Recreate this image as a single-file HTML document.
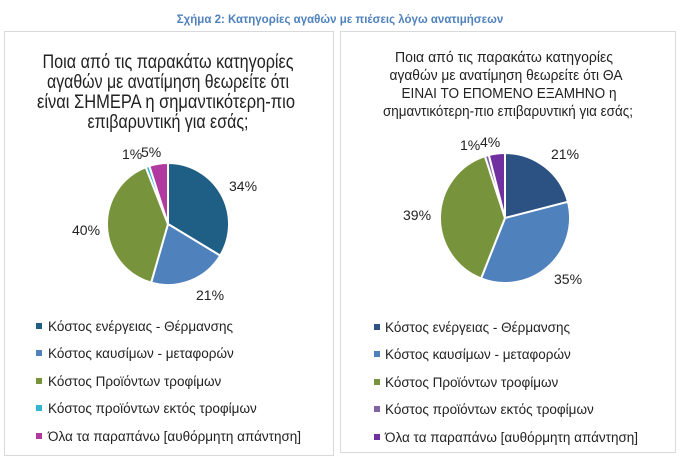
<!DOCTYPE html>
<html><head><meta charset="utf-8"><style>
body{margin:0;background:#fff;}
svg{display:block;font-family:"Liberation Sans",Arial,sans-serif;}
</style></head><body>
<svg id="s" width="680" height="464" xmlns="http://www.w3.org/2000/svg">
<rect width="680" height="464" fill="#fff"/>
<text x="340" y="23" text-anchor="middle" font-size="11.5" font-weight="bold" fill="#4f81bd">Σχήμα 2: Κατηγορίες αγαθών με πιέσεις λόγω ανατιμήσεων</text>
<rect x="4.5" y="31.5" width="329" height="424" fill="#fff" stroke="#d9d9d9"/>
<rect x="340.5" y="31.5" width="335" height="421" fill="#fff" stroke="#d9d9d9"/>
<g font-size="19" fill="#222" text-anchor="middle" lengthAdjust="spacingAndGlyphs">
<text x="168" y="68" textLength="251" lengthAdjust="spacingAndGlyphs">Ποια από τις παρακάτω κατηγορίες</text>
<text x="168" y="88" textLength="242" lengthAdjust="spacingAndGlyphs">αγαθών με ανατίμηση θεωρείτε ότι</text>
<text x="166" y="108" textLength="258" lengthAdjust="spacingAndGlyphs">είναι ΣΗΜΕΡΑ η σημαντικότερη-πιο</text>
<text x="168" y="128" textLength="161" lengthAdjust="spacingAndGlyphs">επιβαρυντική για εσάς;</text>
</g>
<g font-size="15" fill="#222" text-anchor="middle">
<text x="504" y="62" textLength="218" lengthAdjust="spacingAndGlyphs">Ποια από τις παρακάτω κατηγορίες</text>
<text x="506" y="80" textLength="233" lengthAdjust="spacingAndGlyphs">αγαθών με ανατίμηση θεωρείτε ότι ΘΑ</text>
<text x="509" y="98" textLength="215" lengthAdjust="spacingAndGlyphs">ΕΙΝΑΙ ΤΟ ΕΠΟΜΕΝΟ ΕΞΑΜΗΝΟ η</text>
<text x="508" y="116" textLength="250" lengthAdjust="spacingAndGlyphs">σημαντικότερη-πιο επιβαρυντική για εσάς;</text>
</g>
<g id="p1"></g><g id="p2"></g>
<g font-size="14" fill="#222">
<text x="122" y="159">1%</text><text x="141" y="157">5%</text>
<text x="229" y="191">34%</text>
<text x="72" y="235">40%</text>
<text x="196" y="300">21%</text>
<text x="460" y="150">1%</text><text x="480" y="147">4%</text>
<text x="551" y="159">21%</text>
<text x="403" y="220">39%</text>
<text x="554" y="284">35%</text>
</g>
<g font-size="13.5" fill="#222">
<rect x="36" y="323" width="6" height="6" fill="#1f5f85"/><text x="48" y="331">Κόστος ενέργειας - Θέρμανσης</text>
<rect x="36" y="350" width="6" height="6" fill="#4f81bd"/><text x="48" y="358">Κόστος καυσίμων - μεταφορών</text>
<rect x="36" y="378" width="6" height="6" fill="#77933c"/><text x="48" y="386">Κόστος Προϊόντων τροφίμων</text>
<rect x="36" y="405" width="6" height="6" fill="#31b5d6"/><text x="48" y="413">Κόστος προϊόντων εκτός τροφίμων</text>
<rect x="36" y="433" width="6" height="6" fill="#b03aa0"/><text x="48" y="441">Όλα τα παραπάνω [αυθόρμητη απάντηση]</text>
<rect x="374" y="324" width="6" height="6" fill="#2c5284"/><text x="385" y="332">Κόστος ενέργειας - Θέρμανσης</text>
<rect x="374" y="351" width="6" height="6" fill="#4f81bd"/><text x="385" y="359">Κόστος καυσίμων - μεταφορών</text>
<rect x="374" y="379" width="6" height="6" fill="#77933c"/><text x="385" y="387">Κόστος Προϊόντων τροφίμων</text>
<rect x="374" y="406" width="6" height="6" fill="#8064a2"/><text x="385" y="414">Κόστος προϊόντων εκτός τροφίμων</text>
<rect x="374" y="434" width="6" height="6" fill="#7030a0"/><text x="385" y="442">Όλα τα παραπάνω [αυθόρμητη απάντηση]</text>
</g>
</svg>
<script>
function pie(id,cx,cy,r,vals,cols){
 var g=document.getElementById(id),tot=vals.reduce(function(a,b){return a+b},0),a=-Math.PI/2,h='';
 for(var i=0;i<vals.length;i++){
  var b=a+vals[i]/tot*2*Math.PI;
  var x1=cx+r*Math.cos(a),y1=cy+r*Math.sin(a),x2=cx+r*Math.cos(b),y2=cy+r*Math.sin(b);
  h+='<path d="M'+cx+' '+cy+'L'+x1+' '+y1+'A'+r+' '+r+' 0 '+((b-a)>Math.PI?1:0)+' 1 '+x2+' '+y2+'Z" fill="'+cols[i]+'" stroke="#fff" stroke-width="2"/>';
  a=b;
 }
 g.innerHTML=h;
}
pie('p1',168,224,61,[34,21,40,1,5],['#1f5f85','#4f81bd','#77933c','#31b5d6','#b03aa0']);
pie('p2',505,218,65,[21,35,39,1,4],['#2c5284','#4f81bd','#77933c','#8064a2','#7030a0']);
</script>
</body></html>
